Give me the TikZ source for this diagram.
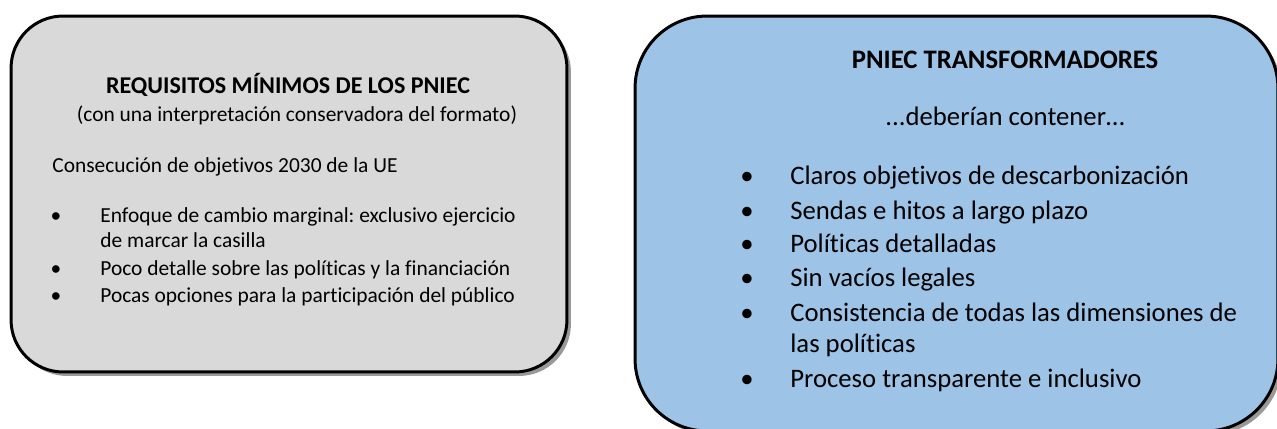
\documentclass[tikz,border=0pt]{standalone}
\usepackage{fontspec}
\setmainfont{Carlito}[RawFeature={-liga}]
\usetikzlibrary{positioning, shadows}

\definecolor{boxgris}{HTML}{D9D9D9}
\definecolor{boxazul}{HTML}{9DC3E6}

\tikzset{
  caja/.style={draw=black, line width=1.7pt, rounded corners=#1, inner sep=0pt,
    drop shadow={shadow xshift=0.08cm, shadow yshift=-0.08cm, fill=black!40, opacity=1}},
  txtizq/.style={inner sep=0pt, font=\fontsize{12.2}{14}\selectfont},
  txtder/.style={inner sep=0pt, font=\fontsize{15.2}{18}\selectfont},
}

\begin{document}
\frenchspacing
\begin{tikzpicture}[x=0.02cm, y=-0.02cm]
    % marco
    \clip (0, 0) rectangle (1277, 429);
    \fill[white] (0, 0) rectangle (1277, 429);

    % cajas
    \node[caja=1.04cm, fill=boxgris, minimum width=11.12cm, minimum height=7.12cm] (minimos) at (289, 194) {};
    \node[caja=1.44cm, fill=boxazul, minimum width=12.86cm, minimum height=8.3cm] (transf) at (956.5, 223.5) {};

    % caja izquierda
    \node[txtizq, anchor=base, font=\fontsize{13.7}{16}\selectfont\bfseries] (tituloizq) at (288, 93) {REQUISITOS MÍNIMOS DE LOS PNIEC};
    \node[txtizq, anchor=base] (subizq) at (297, 121) {(con una interpretación conservadora del formato)};
    \node[txtizq, anchor=base west] (consec) at (52, 172) {Consecución de objetivos 2030 de la UE};

    \node[txtizq, anchor=base] (bi1) at (56, 222) {\textbullet};
    \node[txtizq, anchor=base west] (li1) at (100, 222) {Enfoque de cambio marginal: exclusivo ejercicio};
    \node[txtizq, anchor=base west] (li1b) at (100, 247) {de marcar la casilla};
    \node[txtizq, anchor=base] (bi2) at (56, 275) {\textbullet};
    \node[txtizq, anchor=base west] (li2) at (100, 275) {Poco detalle sobre las políticas y la financiación};
    \node[txtizq, anchor=base] (bi3) at (56, 302) {\textbullet};
    \node[txtizq, anchor=base west] (li3) at (100, 302) {Pocas opciones para la participación del público};

    % caja derecha
    \node[txtder, anchor=base, font=\fontsize{15.2}{18}\selectfont\bfseries] (tituloder) at (1005, 69) {PNIEC TRANSFORMADORES};
    \node[txtder, anchor=base] (deberian) at (1005, 126) {...deberían contener…};

    \node[txtder, anchor=base] (bd1) at (747, 184) {\textbullet};
    \node[txtder, anchor=base west] (ld1) at (790, 184) {Claros objetivos de descarbonización};
    \node[txtder, anchor=base] (bd2) at (747, 219) {\textbullet};
    \node[txtder, anchor=base west] (ld2) at (790, 219) {Sendas e hitos a largo plazo};
    \node[txtder, anchor=base] (bd3) at (747, 252) {\textbullet};
    \node[txtder, anchor=base west] (ld3) at (790, 252) {Políticas detalladas};
    \node[txtder, anchor=base] (bd4) at (747, 286) {\textbullet};
    \node[txtder, anchor=base west] (ld4) at (790, 286) {Sin vacíos legales};
    \node[txtder, anchor=base] (bd5) at (747, 321) {\textbullet};
    \node[txtder, anchor=base west] (ld5) at (790, 321) {Consistencia de todas las dimensiones de};
    \node[txtder, anchor=base west] (ld5b) at (790, 352) {las políticas};
    \node[txtder, anchor=base] (bd6) at (747, 387) {\textbullet};
    \node[txtder, anchor=base west] (ld6) at (790, 387) {Proceso transparente e inclusivo};
\end{tikzpicture}
\end{document}
